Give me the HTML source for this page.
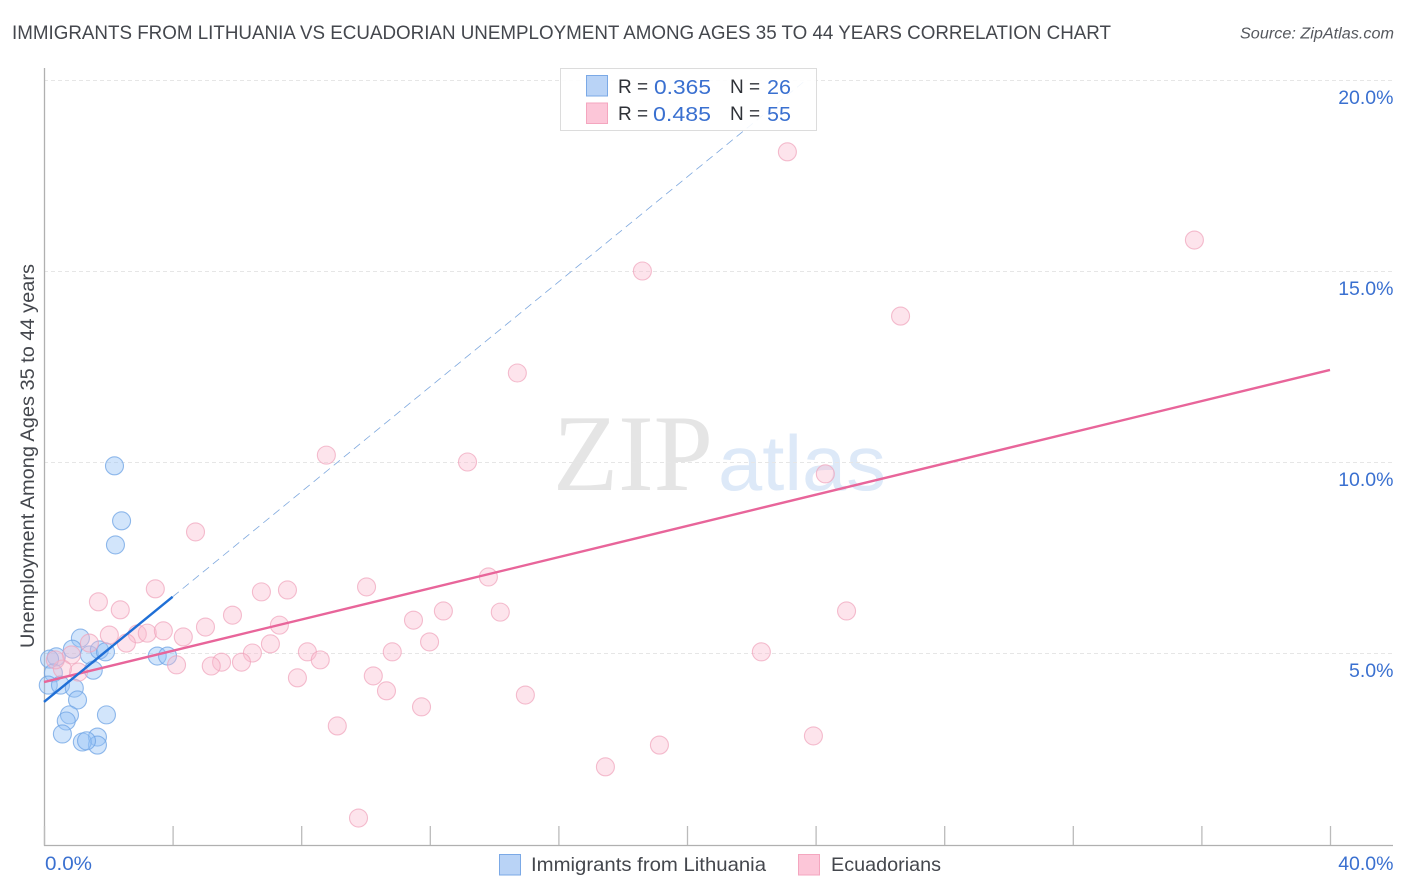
<!DOCTYPE html>
<html lang="en">
<head>
<meta charset="utf-8">
<title>Immigrants from Lithuania vs Ecuadorian Unemployment Chart</title>
<style>
html,body{margin:0;padding:0;background:#fff;width:1406px;height:892px;overflow:hidden}
svg{display:block;font-family:"Liberation Sans",sans-serif}
</style>
</head>
<body>
<svg id="chart" width="1406" height="892" viewBox="0 0 1406 892" xmlns="http://www.w3.org/2000/svg">
  <text x="12" y="39" font-size="19" fill="#44474d" textLength="1099" lengthAdjust="spacingAndGlyphs">IMMIGRANTS FROM LITHUANIA VS ECUADORIAN UNEMPLOYMENT AMONG AGES 35 TO 44 YEARS CORRELATION CHART</text>
  <text x="1240" y="38.5" font-size="15.5" font-style="italic" fill="#55585e" textLength="154" lengthAdjust="spacingAndGlyphs">Source: ZipAtlas.com</text>

  <g>
    <text x="553" y="490" font-family="'Liberation Serif',serif" font-size="109" fill="#e5e5e5" textLength="160" lengthAdjust="spacingAndGlyphs">ZIP</text>
    <text x="718" y="490" font-size="78" fill="#dde9f8" textLength="168" lengthAdjust="spacingAndGlyphs">atlas</text>
  </g>

  <g id="grid"></g>
  <g id="axes"></g>
  <g id="series-blue"></g>
  <g id="series-pink"></g>
  <g id="trends"></g>
  <g id="ticklabels"></g>

  <text transform="translate(34,456) rotate(-90)" text-anchor="middle" font-size="19" fill="#44474d" textLength="384" lengthAdjust="spacingAndGlyphs">Unemployment Among Ages 35 to 44 years</text>

  <g>
    <rect x="560.5" y="68.5" width="256" height="62" fill="#fff" fill-opacity="0.9" stroke="#dcdcdc" stroke-width="1"/>
    <rect x="586.5" y="75.5" width="21" height="20.5" fill="#b9d3f6" stroke="#7ba9e6"/>
    <rect x="586.5" y="103" width="21" height="20.5" fill="#fcc6d8" stroke="#f4a6bf"/>
    <g font-size="20">
      <text x="618" y="93" fill="#2f3238" font-size="19">R =</text>
      <text x="654" y="94" fill="#3a70d0" textLength="57" lengthAdjust="spacingAndGlyphs">0.365</text>
      <text x="730" y="93" fill="#2f3238" font-size="19">N =</text>
      <text x="767" y="94" fill="#3a70d0" textLength="24" lengthAdjust="spacingAndGlyphs">26</text>
      <text x="618" y="120" fill="#2f3238" font-size="19">R =</text>
      <text x="653" y="121" fill="#3a70d0" textLength="58" lengthAdjust="spacingAndGlyphs">0.485</text>
      <text x="730" y="120" fill="#2f3238" font-size="19">N =</text>
      <text x="767" y="121" fill="#3a70d0" textLength="24" lengthAdjust="spacingAndGlyphs">55</text>
    </g>
  </g>

  <g>
    <rect x="499.5" y="854.5" width="21" height="20.5" fill="#b9d3f6" stroke="#7ba9e6"/>
    <text x="531" y="871" font-size="19.5" fill="#44474d" textLength="235" lengthAdjust="spacingAndGlyphs">Immigrants from Lithuania</text>
    <rect x="798.5" y="854.5" width="21" height="20.5" fill="#fcc6d8" stroke="#f4a6bf"/>
    <text x="831" y="871" font-size="19.5" fill="#44474d" textLength="110" lengthAdjust="spacingAndGlyphs">Ecuadorians</text>
  </g>
</svg>
<script>
const yTickValues = [5, 10, 15, 20];
const yTickLabels = ['5.0%', '10.0%', '15.0%', '20.0%'];
const xTickValues = [0, 4, 8, 12, 16, 20, 24, 28, 32, 36, 40];
const xEndValues = [0, 40];
const xEndLabels = ['0.0%', '40.0%'];
const lithuaniaX = [2.18,2.40,2.21,1.12,0.87,1.40,1.71,1.90,1.52,0.37,0.16,0.28,0.12,0.50,0.93,1.03,0.78,0.68,0.56,1.93,1.65,1.65,1.18,1.31,3.51,3.83];
const lithuaniaY = [9.90,8.46,7.83,5.39,5.10,4.95,5.08,5.03,4.55,4.90,4.84,4.48,4.16,4.16,4.08,3.77,3.38,3.22,2.88,3.38,2.80,2.59,2.67,2.70,4.92,4.92];
const ecuadorianX = [23.11,35.77,18.60,26.63,14.71,8.77,13.16,24.29,4.70,13.81,3.45,6.75,7.56,10.02,1.68,2.36,5.85,12.41,14.18,24.95,11.48,5.01,7.31,2.02,2.89,3.20,3.70,4.32,1.40,2.55,7.03,11.98,8.18,6.47,10.82,22.30,8.58,5.51,6.13,5.19,4.11,10.23,7.87,10.64,14.96,11.73,9.11,23.92,19.13,17.45,9.77,0.84,1.06,0.56,0.34];
const ecuadorianY = [18.12,15.81,15.00,13.82,12.33,10.18,10.00,9.69,8.17,6.99,6.68,6.60,6.65,6.73,6.34,6.13,5.99,6.10,6.07,6.10,5.86,5.68,5.73,5.47,5.50,5.52,5.58,5.42,5.26,5.26,5.24,5.29,5.03,5.00,5.03,5.03,4.82,4.76,4.76,4.66,4.69,4.40,4.35,4.01,3.90,3.59,3.09,2.83,2.59,2.02,0.68,4.95,4.50,4.58,4.82];
const lithuaniaTrendX = [0, 4];
const lithuaniaTrendY = [3.72, 6.47];
const lithuaniaDashX = [4, 23.7];
const lithuaniaDashY = [6.47, 20];
const ecuadorianTrendX = [0, 40];
const ecuadorianTrendY = [4.24, 12.41];

const NS = 'http://www.w3.org/2000/svg';
const xScale = v => 44 + v * 32.15;
const yScale = v => 844 - v * 38.2;
function make(tag, attrs, parentId) {
  const el = document.createElementNS(NS, tag);
  for (const k in attrs) el.setAttribute(k, attrs[k]);
  document.getElementById(parentId).appendChild(el);
  return el;
}

yTickValues.forEach(v => {
  const el = make('line', {x1: 44, x2: 1393, y1: yScale(v) + 0.5, y2: yScale(v) + 0.5, stroke: '#e6e6e6', 'stroke-width': 1, 'stroke-dasharray': '4 3'}, 'grid');
  
  
});

const yAxisLine = make('line', {x1: 44.5, x2: 44.5, y1: 68, y2: 846, stroke: '#b0b0b0', 'stroke-width': 1.3}, 'axes');


const xAxisLine = make('line', {x1: 44, x2: 1393, y1: 845.5, y2: 845.5, stroke: '#b0b0b0', 'stroke-width': 1.3}, 'axes');


xTickValues.forEach(v => {
  const el = make('line', {x1: xScale(v) + 0.5, x2: xScale(v) + 0.5, y1: 826, y2: 845, stroke: '#bbbbbb', 'stroke-width': 1.3}, 'axes');
  
  
});

lithuaniaX.forEach((v, i) => {
  const el = make('circle', {cx: xScale(v) + 0.4, cy: yScale(lithuaniaY[i]), r: 9, fill: '#94c0f5', 'fill-opacity': 0.42, stroke: '#6ea3e4', 'stroke-opacity': 0.75, 'stroke-width': 1.1}, 'series-blue');
  
  
});
ecuadorianX.forEach((v, i) => {
  const el = make('circle', {cx: xScale(v) + 0.4, cy: yScale(ecuadorianY[i]), r: 9, fill: '#f9bccf', 'fill-opacity': 0.4, stroke: '#f0a3bb', 'stroke-opacity': 0.7, 'stroke-width': 1.1}, 'series-pink');
  
  
});

const pinkTrend = make('line', {x1: xScale(ecuadorianTrendX[0]), y1: yScale(ecuadorianTrendY[0]), x2: xScale(ecuadorianTrendX[1]), y2: yScale(ecuadorianTrendY[1]), stroke: '#e8659a', 'stroke-width': 2.4}, 'trends');


const blueDash = make('line', {x1: xScale(lithuaniaDashX[0]), y1: yScale(lithuaniaDashY[0]), x2: xScale(lithuaniaDashX[1]), y2: yScale(lithuaniaDashY[1]), stroke: '#7ea8de', 'stroke-width': 0.8, 'stroke-dasharray': '8 5'}, 'trends');


const blueTrend = make('line', {x1: xScale(lithuaniaTrendX[0]), y1: yScale(lithuaniaTrendY[0]), x2: xScale(lithuaniaTrendX[1]), y2: yScale(lithuaniaTrendY[1]), stroke: '#1f6fd6', 'stroke-width': 2.4}, 'trends');



yTickValues.forEach((v, i) => {
  const el = make('text', {x: 1393.5, y: yScale(v) + 24, 'text-anchor': 'end', 'font-size': 19.5, fill: '#3a70d0'}, 'ticklabels');
  el.textContent = yTickLabels[i];
  
  
});
xEndValues.forEach((v, i) => {
  const attrs = i === 0
    ? {x: xScale(v) + 1, y: 870, 'text-anchor': 'start', 'font-size': 19.5, fill: '#3a70d0', textLength: 47, lengthAdjust: 'spacingAndGlyphs'}
    : {x: 1393.5, y: 870, 'text-anchor': 'end', 'font-size': 19.5, fill: '#3a70d0'};
  const el = make('text', attrs, 'ticklabels');
  el.textContent = xEndLabels[i];
  
  
});
</script>
</body>
</html>
